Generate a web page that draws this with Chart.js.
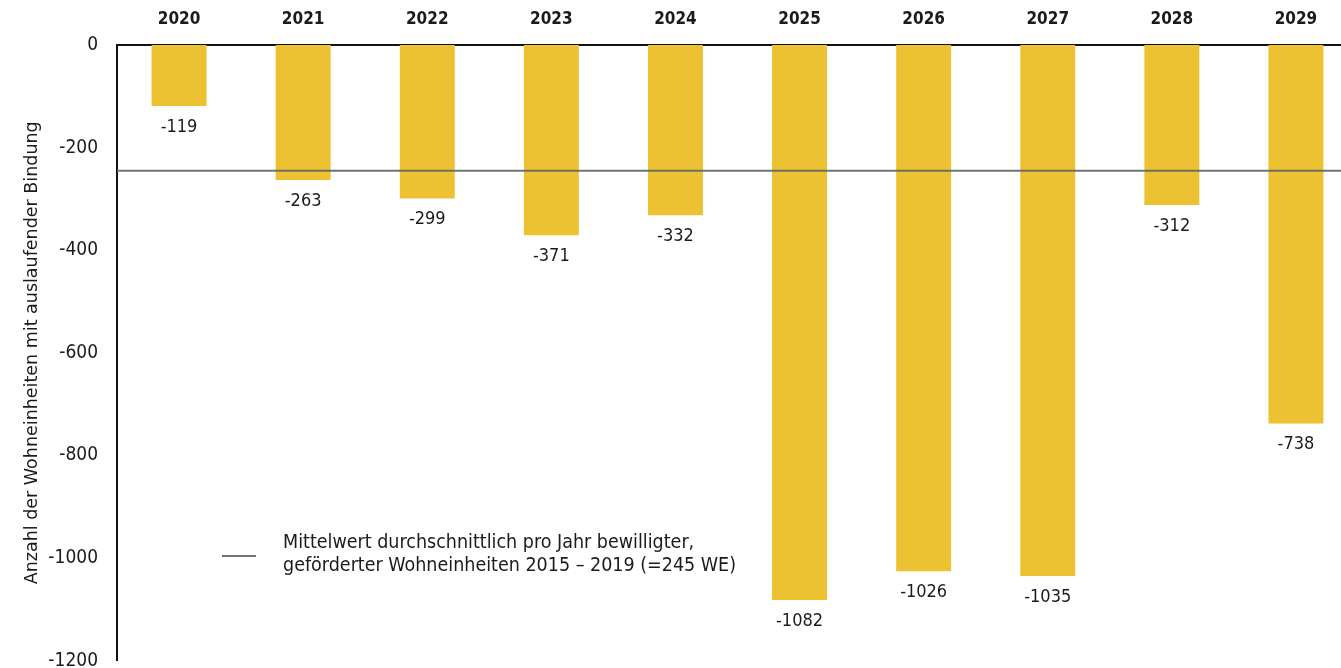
<!DOCTYPE html>
<html lang="de">
<head>
<meta charset="utf-8">
<title>Auslaufende Bindungen 2020–2029</title>
<script src="https://cdn.jsdelivr.net/npm/chart.js@4/dist/chart.umd.min.js"></script>
<style>
  html, body { margin: 0; padding: 0; background: #fff; overflow: hidden; }
  #wrap { position: relative; width: 1358px; height: 691px; }
</style>
</head>
<body>
<div id="wrap"><canvas id="chart"></canvas></div>
<script>
const years = ['2020', '2021', '2022', '2023', '2024', '2025', '2026', '2027', '2028', '2029'];
const expiring = [-119, -263, -299, -371, -332, -1082, -1026, -1035, -312, -738];
const meanApproved = -245;
const yTicks = [0, -200, -400, -600, -800, -1000, -1200];
const legendLines = ['Mittelwert durchschnittlich pro Jahr bewilligter,', 'geförderter Wohneinheiten 2015 – 2019 (=245 WE)'];

const FONT = '"Liberation Sans Narrow", "DejaVu Sans Condensed", sans-serif';
const TITLE_FONT = '"DejaVu Sans", sans-serif';
const INK = '#1b1b1b';
const MEAN_COLOR = 'rgba(95, 102, 102, 0.9)';

// values under the bars, the mean line and its legend
const overlay = {
  id: 'overlay',
  afterDatasetsDraw(chart) {
    const { ctx, chartArea, scales } = chart;
    const meta = chart.getDatasetMeta(0);

    ctx.save();
    const yMean = scales.y.getPixelForValue(meanApproved);
    ctx.strokeStyle = MEAN_COLOR;
    ctx.lineWidth = 2;
    ctx.beginPath();
    ctx.moveTo(chartArea.left, yMean);
    ctx.lineTo(chartArea.right, yMean);
    ctx.stroke();

    ctx.fillStyle = INK;
    ctx.font = '18px ' + FONT;
    ctx.textAlign = 'center';
    ctx.textBaseline = 'middle';
    meta.data.forEach((bar, i) => {
      ctx.fillText(String(expiring[i]), bar.x, bar.y + 21);
    });

    // legend entry
    const lx = chartArea.left + 105, ly = 556;
    ctx.beginPath();
    ctx.moveTo(lx, ly);
    ctx.lineTo(lx + 34, ly);
    ctx.stroke();
    ctx.textAlign = 'left';
    ctx.font = '19.5px ' + FONT;
    ctx.fillText(legendLines[0], lx + 61, ly - 13);
    ctx.fillText(legendLines[1], lx + 61, ly + 10);
    ctx.restore();
  }
};

new Chart(document.getElementById('chart'), {
  type: 'bar',
  data: {
    labels: years,
    datasets: [{
      data: expiring,
      backgroundColor: '#ecc132',
      borderWidth: 0,
      barPercentage: 0.443,
      categoryPercentage: 1
    }]
  },
  options: {
    responsive: true,
    maintainAspectRatio: false,
    animation: false,
    layout: { padding: { top: 0, right: 0, bottom: 8, left: 0 } },
    plugins: {
      legend: { display: false },
      tooltip: { enabled: false }
    },
    scales: {
      x: {
        position: 'top',
        afterFit(scale) { scale.height = 45; },
        grid: { display: false, drawTicks: false },
        border: { display: true, color: '#111', width: 2 },
        ticks: {
          color: INK,
          padding: 15,
          maxRotation: 0,
          font: { family: FONT, size: 17, weight: 'bold' }
        }
      },
      y: {
        min: -1200,
        max: 0,
        afterFit(scale) { scale.width = 117; },
        afterBuildTicks(scale) { scale.ticks = yTicks.map(v => ({ value: v })); },
        grid: { display: false, drawTicks: false },
        border: { display: true, color: '#111', width: 2 },
        ticks: {
          color: INK,
          padding: 19,
          font: { family: FONT, size: 19 },
          callback: v => String(v)
        },
        title: {
          display: true,
          text: 'Anzahl der Wohneinheiten mit auslaufender Bindung',
          color: INK,
          padding: { top: 22 },
          font: { family: TITLE_FONT, size: 17.5 }
        }
      }
    }
  },
  plugins: [overlay]
});
</script>
</body>
</html>
